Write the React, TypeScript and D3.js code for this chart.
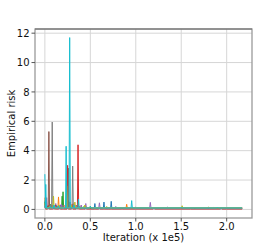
import { useRef, useEffect } from 'react';
import * as d3 from 'd3';

// iteration (x 1e5) and empirical risk of the spikes of each run; between spikes a run sits at its floor
const runFloors = [0.05, 0.1, 0.07, 0.03, 0.12, 0.06, 0.09, 0.08, 0.11, 0.1];
const runEnds = [2.17, 2.17, 2.17, 2.17, 2.17, 2.17, 2.17, 2.17, 2.17, 2.17];

const blueSpikes = [[0, 0.6], [0.03, 0.25], [0.05, 0.3], [0.09, 0.2], [0.12, 0.2], [0.17, 0.3], [0.2, 0.25], [0.25, 0.4], [0.3, 0.3], [0.38, 0.2], [0.42, 0.15], [0.55, 0.4], [0.65, 0.5], [0.73, 0.55], [0.85, 0.1], [1.2, 0.08], [1.6, 0.07], [2.0, 0.06]];
const orangeSpikes = [[0, 0.8], [0.04, 0.3], [0.1, 0.2], [0.15, 0.85], [0.21, 0.3], [0.27, 0.5], [0.31, 0.4], [0.4, 0.25], [0.48, 0.15], [0.62, 0.1], [0.9, 0.35], [1.1, 0.08], [1.5, 0.06], [1.73, 0.15], [1.95, 0.06]];
const greenSpikes = [[0, 0.5], [0.06, 0.35], [0.08, 0.3], [0.13, 0.25], [0.19, 0.9], [0.2, 1.2], [0.26, 0.6], [0.35, 0.3], [0.43, 0.2], [0.5, 0.2], [0.7, 0.15], [1.05, 0.1], [1.6, 0.08]];
const redSpikes = [[0, 0.4], [0.04, 0.2], [0.1, 0.25], [0.16, 0.3], [0.25, 3.0], [0.3, 0.35], [0.35, 0.2], [0.365, 4.4], [0.45, 0.2], [0.6, 0.1], [1.2, 0.1], [1.94, 0.12]];
const purpleSpikes = [[0, 0.3], [0.02, 0.8], [0.07, 0.3], [0.12, 0.4], [0.18, 0.35], [0.28, 0.5], [0.33, 0.3], [0.4, 0.3], [0.45, 0.4], [0.6, 0.45], [0.78, 0.2], [1.0, 0.15], [1.16, 0.48], [1.35, 0.15], [1.85, 0.15]];
const brownSpikes = [[0, 0.3], [0.03, 0.2], [0.044, 5.3], [0.08, 0.25], [0.12, 0.3], [0.2, 0.2], [0.26, 2.8], [0.33, 0.2], [0.4, 0.15], [0.7, 0.1], [1.3, 0.12]];
const pinkSpikes = [[0, 0.3], [0.11, 0.2], [0.22, 0.2], [0.34, 0.3], [0.5, 0.15], [0.85, 0.15], [1.65, 0.15]];
const graySpikes = [[0, 0.3], [0.06, 0.3], [0.081, 5.95], [0.14, 0.2], [0.2, 0.3], [0.306, 2.95], [0.5, 0.15], [1.0, 0.12]];
const oliveSpikes = [[0, 0.4], [0.05, 0.2], [0.095, 0.9], [0.16, 0.3], [0.24, 1.6], [0.29, 0.3], [0.33, 0.5], [0.44, 0.3], [0.68, 0.2], [1.51, 0.25], [1.8, 0.15]];
const cyanSpikes = [[0, 2.4], [0.01, 1.7], [0.06, 0.2], [0.1, 0.3], [0.15, 0.25], [0.234, 4.3], [0.273, 11.7], [0.32, 0.3], [0.37, 0.7], [0.5, 0.2], [0.955, 0.6], [1.5, 0.15], [1.9, 0.15]];

const runSpikes = [blueSpikes, orangeSpikes, greenSpikes, redSpikes, purpleSpikes, brownSpikes, pinkSpikes, graySpikes, oliveSpikes, cyanSpikes];
const xTicks = [0, 0.5, 1.0, 1.5, 2.0];
const yTicks = [0, 2, 4, 6, 8, 10, 12];

export default function App() {
    const svgRef = useRef<SVGSVGElement>(null);

    useEffect(() => {
        if (!svgRef.current) return;
        const svg = d3.select(svgRef.current);
        svg.selectAll('*').remove();

        const left = 35, right = 252, top = 29, bottom = 218;
        const font = 'DejaVu Sans, sans-serif';

        const x = d3.scaleLinear().domain([-0.1085, 2.2785]).range([left, right]);
        const y = d3.scaleLinear().domain([-0.585, 12.285]).range([bottom, top]);

        // grid
        svg.append('g').selectAll('line')
            .data(xTicks).enter().append('line')
            .attr('x1', d => x(d)).attr('x2', d => x(d))
            .attr('y1', top).attr('y2', bottom)
            .attr('stroke', '#d6d6d6').attr('stroke-width', 1);
        svg.append('g').selectAll('line')
            .data(yTicks).enter().append('line')
            .attr('x1', left).attr('x2', right)
            .attr('y1', d => y(d)).attr('y2', d => y(d))
            .attr('stroke', '#d6d6d6').attr('stroke-width', 1);

        // each run: floor, then up to a spike and back down
        const half = 0.007;
        const runs = runSpikes.map((spikes, i) => {
            const floor = runFloors[i];
            const pts: number[][] = [];
            spikes.forEach(([sx, sy]) => {
                if (sx - half > 0) pts.push([sx - half, floor]);
                pts.push([sx, sy]);
                pts.push([sx + half, floor]);
            });
            pts.push([runEnds[i], floor]);
            return pts;
        });

        const line = d3.line<number[]>().x(d => x(d[0])).y(d => y(d[1]));
        const colors = d3.schemeCategory10;
        svg.append('g').selectAll('path')
            .data(runs).enter().append('path')
            .attr('d', d => line(d) as string)
            .attr('fill', 'none')
            .attr('stroke', (_, i) => colors[i])
            .attr('stroke-width', 1)
            .attr('stroke-linejoin', 'round');

        // spines
        svg.append('rect')
            .attr('x', left).attr('y', top)
            .attr('width', right - left).attr('height', bottom - top)
            .attr('fill', 'none').attr('stroke', '#9a9a9a').attr('stroke-width', 1.3);
        svg.append('line')
            .attr('x1', left).attr('x2', right).attr('y1', top).attr('y2', top)
            .attr('stroke', '#666').attr('stroke-width', 1);

        // x ticks
        const xt = svg.append('g').selectAll('g').data(xTicks).enter().append('g');
        xt.append('line')
            .attr('x1', d => x(d)).attr('x2', d => x(d))
            .attr('y1', bottom).attr('y2', bottom + 3.5)
            .attr('stroke', '#555');
        xt.append('text')
            .attr('x', d => x(d)).attr('y', 229.5)
            .attr('text-anchor', 'middle')
            .style('font-family', font).style('font-size', '10px')
            .attr('fill', '#111')
            .text(d => d.toFixed(1));

        // y ticks
        const yt = svg.append('g').selectAll('g').data(yTicks).enter().append('g');
        yt.append('line')
            .attr('x1', left - 3.5).attr('x2', left)
            .attr('y1', d => y(d)).attr('y2', d => y(d))
            .attr('stroke', '#555');
        yt.append('text')
            .attr('x', left - 5.5).attr('y', d => y(d))
            .attr('dy', '0.36em')
            .attr('text-anchor', 'end')
            .style('font-family', font).style('font-size', '10px')
            .attr('fill', '#111')
            .text(d => d);

        // axis labels
        svg.append('text')
            .attr('x', (left + right) / 2).attr('y', 241)
            .attr('text-anchor', 'middle')
            .style('font-family', font).style('font-size', '10px')
            .attr('fill', '#111')
            .text('Iteration (x 1e5)');
        svg.append('text')
            .attr('transform', `translate(15, ${(top + bottom) / 2}) rotate(-90)`)
            .attr('text-anchor', 'middle')
            .style('font-family', font).style('font-size', '10px')
            .attr('fill', '#111')
            .text('Empirical risk');
    }, []);

    return (
        <div style={{ position: 'absolute', left: 0, top: 0, width: 280, height: 245, background: '#fff' }}>
            <svg ref={svgRef} width={280} height={245}></svg>
        </div>
    );
}
